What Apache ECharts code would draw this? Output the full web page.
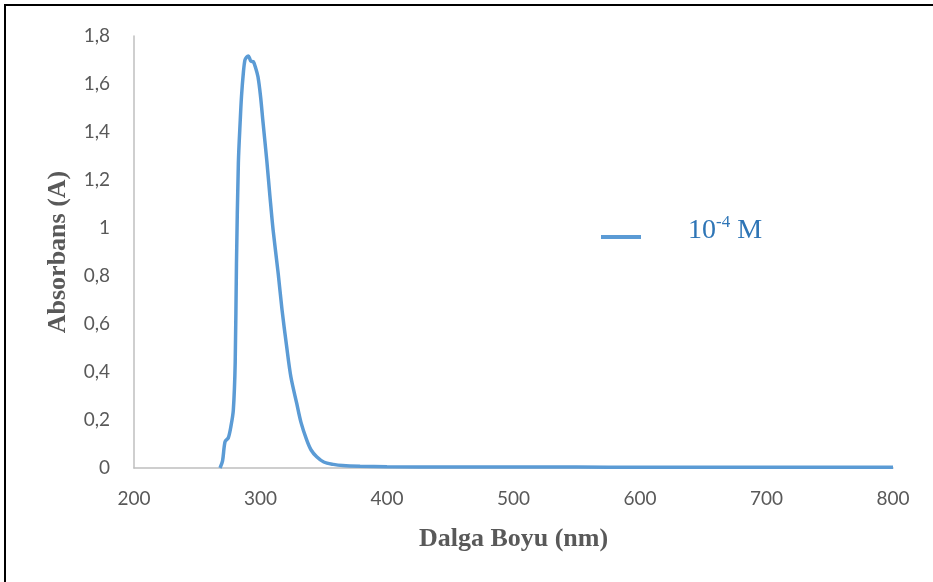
<!DOCTYPE html>
<html>
<head>
<meta charset="utf-8">
<script src="https://cdn.jsdelivr.net/npm/echarts@6/dist/echarts.min.js"></script>
<style>
html,body{margin:0;padding:0;background:#fff;}
#c{width:933px;height:582px;}
</style>
</head>
<body>
<div id="c"></div>
<script>
var wavelength = [268, 270, 272, 274.5, 276.5, 278.5, 280, 281, 282.5, 284, 285, 286.5, 287.7, 289, 290.4, 291.5, 292.5, 294.3, 296, 298, 300, 302, 305, 307.5, 310, 314, 317, 320.7, 324, 328.6, 332, 336.5, 340, 344.4, 350, 357.6, 365, 378.7, 400, 450, 500, 550, 600, 650, 700, 750, 800];
var absorbance = [0.0, 0.03, 0.11, 0.125, 0.17, 0.24, 0.44, 0.85, 1.27, 1.45, 1.55, 1.65, 1.70, 1.712, 1.717, 1.705, 1.695, 1.693, 1.67, 1.63, 1.55, 1.44, 1.28, 1.13, 0.99, 0.81, 0.66, 0.505, 0.38, 0.27, 0.19, 0.117, 0.075, 0.047, 0.025, 0.015, 0.01, 0.007, 0.005, 0.004, 0.004, 0.004, 0.003, 0.003, 0.003, 0.003, 0.003];
var xTicks = [200, 300, 400, 500, 600, 700, 800];
var yTicks = [0, 0.2, 0.4, 0.6, 0.8, 1, 1.2, 1.4, 1.6, 1.8];
var seriesName = '10-4 M';

var chart = echarts.init(document.getElementById('c'), null, {renderer: 'canvas'});
var pts = wavelength.map(function (w, i) { return [w, absorbance[i]]; });
var labelFont = 'Lato, "Open Sans", sans-serif';
var titleFont = '"Liberation Serif", "DejaVu Serif", serif';

chart.setOption({
  animation: false,
  backgroundColor: '#ffffff',
  graphic: [{
    type: 'rect',
    shape: {x: 5, y: 5, width: 940, height: 590},
    style: {fill: 'none', stroke: '#000000', lineWidth: 2},
    silent: true
  }],
  grid: {left: 134, right: 40, top: 36, bottom: 114, containLabel: false},
  legend: {
    show: true,
    left: 601,
    top: 214,
    padding: 0,
    itemWidth: 40,
    itemHeight: 4,
    icon: 'rect',
    data: [{name: seriesName, icon: 'rect'}],
    formatter: function () { return '{a|10}{s|-4}{a| M}'; },
    textStyle: {
      padding: [0, 0, 12, 42],
      rich: {
        a: {fontFamily: titleFont, fontSize: 28, color: '#2e75b6', lineHeight: 34},
        s: {fontFamily: titleFont, fontSize: 17, color: '#2e75b6', verticalAlign: 'top', lineHeight: 17}
      }
    }
  },
  xAxis: {
    type: 'value',
    min: xTicks[0],
    max: xTicks[xTicks.length - 1],
    interval: 100,
    name: 'Dalga Boyu (nm)',
    nameLocation: 'middle',
    nameGap: 58,
    nameTextStyle: {fontFamily: titleFont, fontWeight: 'bold', fontSize: 26, color: '#595959'},
    axisLine: {show: true, lineStyle: {color: '#bfbfbf', width: 1.5}},
    axisTick: {show: false},
    splitLine: {show: false},
    axisLabel: {fontFamily: labelFont, fontSize: 19, color: '#595959', margin: 21,
      formatter: function (v) { return String(v); }}
  },
  yAxis: {
    type: 'value',
    min: yTicks[0],
    max: yTicks[yTicks.length - 1],
    interval: 0.2,
    name: 'Absorbans (A)',
    nameLocation: 'middle',
    nameGap: 63,
    nameTextStyle: {fontFamily: titleFont, fontWeight: 'bold', fontSize: 26, color: '#595959'},
    axisLine: {show: true, lineStyle: {color: '#bfbfbf', width: 1.5}},
    axisTick: {show: false},
    splitLine: {show: false},
    axisLabel: {fontFamily: labelFont, fontSize: 19, color: '#595959', margin: 24,
      formatter: function (v) { return String(Math.round(v * 10) / 10).replace('.', ','); }}
  },
  series: [{
    name: seriesName,
    type: 'line',
    data: pts,
    showSymbol: false,
    smooth: 0.3,
    lineStyle: {color: '#5b9bd5', width: 3.5},
    itemStyle: {color: '#5b9bd5'}
  }]
});
</script>
</body>
</html>
